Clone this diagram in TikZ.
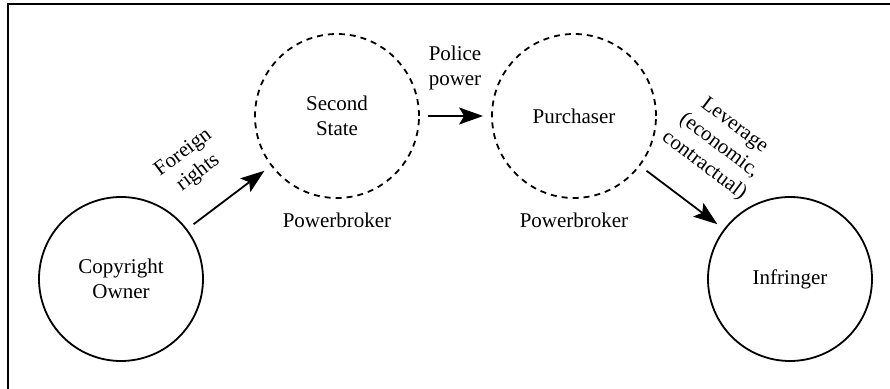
\documentclass[tikz,border=0pt]{standalone}
\usepackage{fontspec}
\setmainfont{Liberation Serif}
\usetikzlibrary{positioning, arrows.meta}

\begin{document}
\begin{tikzpicture}[
        node distance=3.5pt,
        every node/.style={font=\rmfamily\fontsize{10.5}{12.5}\selectfont, align=center},
        party/.style={circle, draw, solid, line width=0.9pt, minimum size=82pt, inner sep=0pt},
        broker/.style={party, dash pattern=on 3pt off 2.5pt},
        flow/.style={-{Stealth[length=12pt, width=8.5pt, inset=2.5pt]}, line width=0.9pt, shorten <=4pt, shorten >=4pt},
        x=0.5pt,
        y=-0.5pt
    ]
    \useasboundingbox (0,0) rectangle (890,389);
    \draw[line width=0.7pt] (8,400) -- (8,4) -- (900,4);

    \node[party] (owner) at (121,279) {Copyright\\Owner};
    \node[broker] (state) at (337,116) {Second\\State};
    \node[broker] (buyer) at (574,116) {Purchaser};
    \node[party] (infr) at (790,279) {Infringer};

    \node[below=of state] (pb1) {Powerbroker};
    \node[below=of buyer] (pb2) {Powerbroker};

    \draw[flow] (owner) -- (state);
    \draw[flow] (state) -- (buyer);
    \draw[flow] (buyer) -- (infr);

    \node[rotate=37] (lfor) at (191,163) {Foreign\\rights};
    \node (lpol) at (455,68) {Police\\power};
    \node[rotate=-37] (llev) at (719,146) {Leverage\\(economic,\\contractual)};
\end{tikzpicture}
\end{document}
